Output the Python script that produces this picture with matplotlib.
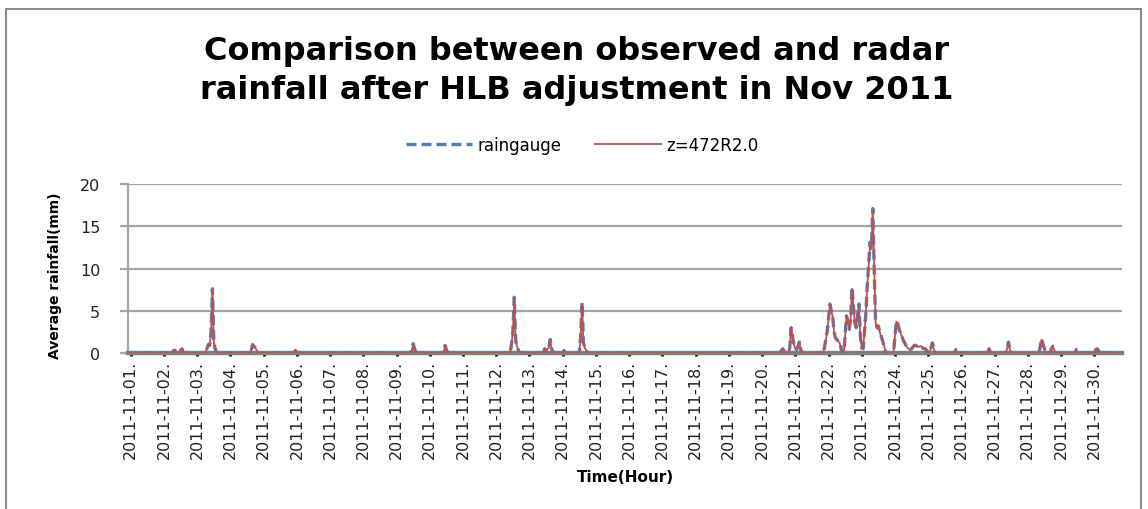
import numpy as np
import matplotlib.pyplot as plt
from matplotlib.lines import Line2D
from matplotlib.patches import Rectangle

# hourly series for Nov 2011 (720 hours), only the non-zero hours are listed
n_hours = 720
rain_hours = [33, 34, 38, 39, 57, 58, 59, 60, 61, 62,
              63, 89, 90, 91, 92, 93, 121, 122, 205, 206,
              207, 229, 230, 277, 278, 279, 280, 281, 282, 301,
              303, 304, 305, 306, 315, 327, 328, 329, 330, 331,
              472, 473, 474, 478, 479, 480, 481, 482, 483, 484,
              485, 486, 503, 504, 505, 506, 507, 508, 509, 510,
              511, 512, 513, 514, 515, 518, 519, 520, 521, 522,
              523, 524, 525, 526, 527, 528, 529, 530, 531, 532,
              533, 534, 535, 536, 537, 538, 539, 540, 541, 542,
              543, 544, 545, 546, 547, 554, 555, 556, 557, 558,
              559, 560, 561, 562, 563, 564, 565, 566, 567, 568,
              569, 570, 571, 572, 573, 574, 575, 576, 577, 580,
              581, 582, 598, 622, 635, 636, 637, 659, 660, 661,
              662, 667, 668, 669, 685, 699, 700, 701]
raingauge = [0.3, 0.3, 0.5, 0.5, 0.5, 1.0, 0.9, 2.5, 7.6, 1.2,
             0.5, 0.3, 1.0, 0.8, 0.6, 0.3, 0.4, 0.2, 0.3, 1.1,
             0.5, 0.9, 0.4, 1.0, 2.5, 6.6, 1.5, 0.8, 0.3, 0.5,
             0.5, 0.6, 1.6, 0.5, 0.3, 2.0, 6.0, 1.2, 0.6, 0.3,
             0.3, 0.5, 0.2, 0.6, 3.0, 2.0, 1.0, 0.5, 0.4, 0.8,
             1.3, 0.4, 0.6, 1.5, 2.5, 4.0, 5.8, 5.0, 4.4, 2.5,
             1.8, 1.6, 1.4, 1.2, 0.6, 2.0, 4.4, 3.8, 2.8, 4.0,
             7.8, 5.5, 3.6, 3.0, 4.5, 5.8, 2.0, 0.6, 0.5, 2.5,
             4.8, 8.0, 10.5, 13.1, 12.5, 17.1, 10.0, 3.6, 3.0, 3.2,
             2.5, 2.0, 1.5, 0.9, 0.3, 2.0, 3.8, 3.5, 2.8, 2.4,
             2.0, 1.5, 1.2, 0.9, 0.6, 0.5, 0.4, 0.5, 0.7, 0.9,
             0.9, 0.8, 0.7, 0.8, 0.8, 0.6, 0.5, 0.5, 0.3, 0.6,
             1.2, 0.5, 0.4, 0.5, 0.5, 1.3, 0.4, 0.8, 1.7, 1.0,
             0.5, 0.5, 0.8, 0.4, 0.4, 0.4, 0.5, 0.3]
radar = [0.3, 0.3, 0.5, 0.5, 0.5, 1.0, 0.9, 2.4, 7.4, 1.2,
         0.5, 0.3, 1.0, 0.8, 0.6, 0.3, 0.4, 0.2, 0.3, 1.0,
         0.5, 0.9, 0.4, 1.0, 2.4, 6.4, 1.5, 0.8, 0.3, 0.5,
         0.5, 0.6, 1.5, 0.5, 0.3, 2.0, 5.8, 1.2, 0.6, 0.3,
         0.3, 0.5, 0.2, 0.6, 3.0, 2.0, 1.0, 0.5, 0.4, 0.8,
         1.2, 0.4, 0.6, 1.5, 2.5, 4.0, 5.6, 5.0, 4.3, 2.5,
         1.8, 1.6, 1.4, 1.2, 0.6, 2.0, 4.3, 3.8, 2.8, 4.0,
         7.6, 5.5, 3.6, 3.0, 4.5, 5.6, 2.0, 0.6, 0.5, 2.5,
         4.7, 8.0, 10.3, 12.8, 12.3, 16.8, 10.0, 3.6, 3.0, 3.2,
         2.5, 2.0, 1.5, 0.9, 0.3, 2.0, 3.7, 3.5, 2.8, 2.4,
         2.0, 1.5, 1.2, 0.9, 0.6, 0.5, 0.4, 0.5, 0.7, 0.9,
         0.9, 0.8, 0.7, 0.8, 0.8, 0.6, 0.5, 0.5, 0.3, 0.6,
         1.2, 0.5, 0.4, 0.5, 0.5, 1.2, 0.4, 0.8, 1.6, 1.0,
         0.5, 0.5, 0.8, 0.4, 0.4, 0.4, 0.5, 0.3]
assert len(rain_hours) == len(raingauge) == len(radar)

day_labels = ['2011-11-%02d.' % d for d in range(1, 31)]

gauge_series = np.zeros(n_hours)
gauge_series[rain_hours] = raingauge
radar_series = np.zeros(n_hours)
radar_series[rain_hours] = radar
t = np.arange(n_hours)

W, H = 1148, 510
fig = plt.figure(figsize=(W / 100, H / 100), dpi=100)

# outer chart border
fig.patches.append(Rectangle((6 / W, -0.02), 1135 / W, 1 - 10 / H + 0.02,
                             transform=fig.transFigure, fill=False,
                             edgecolor='#8c8c8c', lw=1.5))

ax = fig.add_axes([128 / W, 1 - 354 / H, (1122 - 128) / W, (354 - 185) / H])

ax.plot(t, gauge_series, color='#4f81bd', lw=2.4, ls=(0, (3, 1.5)), zorder=3)
ax.plot(t, radar_series, color='#c0504d', lw=1.3, zorder=4)

ax.set_ylim(0, 20)
ax.set_xlim(0, 718)
ax.set_yticks([0, 5, 10, 15, 20])
ax.set_xticks(np.arange(0, n_hours, 24) + 2)
ax.set_xticklabels(day_labels, rotation=90, fontsize=11.5, family='DejaVu Sans')
ax.grid(axis='y', color='#a6a6a6', lw=1.6)
ax.set_axisbelow(True)

for s in ['top', 'right']:
    ax.spines[s].set_visible(False)
ax.spines['left'].set_color('#a6a6a6')
ax.spines['left'].set_linewidth(1.6)
ax.spines['bottom'].set_color('#7f7f7f')
ax.spines['bottom'].set_linewidth(3.2)

ax.tick_params(axis='y', length=6, width=1.6, color='#a6a6a6', pad=14,
               labelsize=11.5, labelcolor='#222222')
ax.tick_params(axis='x', length=2, width=2, color='black', pad=3,
               labelcolor='#222222')

fig.text(577 / W, 1 - 71 / H,
         'Comparison between observed and radar\nrainfall after HLB adjustment in Nov 2011',
         ha='center', va='center', fontsize=23, fontweight='bold',
         linespacing=1.35, family='DejaVu Sans')
fig.text(55 / W, 1 - 276 / H, 'Average rainfall(mm)', rotation=90,
         ha='center', va='center', fontsize=10, fontweight='bold')
fig.text(625 / W, 1 - 478 / H, 'Time(Hour)', ha='center', va='center',
         fontsize=11, fontweight='bold')

handles = [Line2D([], [], color='#4f81bd', lw=2.4, ls=(0, (3, 1.5))),
           Line2D([], [], color='#c0504d', lw=1.3)]
fig.legend(handles, ['raingauge', 'z=472R2.0'], loc='center',
           bbox_to_anchor=(582 / W, 1 - 146 / H), ncol=2, frameon=False,
           fontsize=12, handlelength=4.0, columnspacing=2.0, handletextpad=0.3)

fig.savefig('out.png', dpi=100)
